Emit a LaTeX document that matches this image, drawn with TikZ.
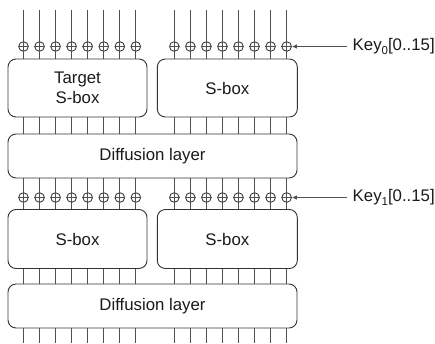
\documentclass[tikz,border=0pt]{standalone}
\usepackage{fontspec}
\setmainfont{Liberation Sans}
\usetikzlibrary{arrows.meta}
\definecolor{wirecol}{HTML}{505050}
\definecolor{edgecol}{HTML}{333333}
\definecolor{textcol}{HTML}{1A1A1A}
\tikzstyle{sbox} = [rectangle, rounded corners=8pt, minimum width=139pt, minimum height=58pt, text centered, draw=edgecol, line width=0.9pt, align=center, inner sep=0pt, text=textcol]
\tikzstyle{diffusion} = [rectangle, rounded corners=8pt, minimum width=289pt, minimum height=44pt, text centered, draw=edgecol, line width=0.9pt, inner sep=0pt, text=textcol]
\tikzstyle{xorgate} = [circle, minimum size=9.6pt, inner sep=0pt, draw=edgecol, line width=0.85pt]
\tikzstyle{wire} = [draw=wirecol, line width=0.85pt]
\tikzstyle{arrow} = [draw=wirecol, line width=0.85pt, -{Latex[length=5pt,width=4.5pt]}]

\begin{document}
\begin{tikzpicture}[x=1pt, y=-1pt, font=\fontsize{16.8}{19.5}\selectfont]
    \useasboundingbox (0,0) rectangle (435,343);

    % Boxes
    \node (sboxA) [sbox] at (77.5,88) {Target\\S-box};
    \node (sboxB) [sbox, minimum width=140pt] at (227.3,88) {S-box};
    \node (diffA) [diffusion] at (152.5,156) {Diffusion layer};
    \node (sboxC) [sbox, minimum height=59pt] at (77.5,239) {S-box};
    \node (sboxD) [sbox, minimum width=140pt, minimum height=59pt] at (227.3,239) {S-box};
    \node (diffB) [diffusion] at (152.5,306) {Diffusion layer};

    % XOR gates and wires
    \foreach \i in {1,...,8} {
        \pgfmathsetmacro{\xl}{23.5+16.05*(\i-1)}
        \pgfmathsetmacro{\xr}{174.3+16.05*(\i-1)}
        \node (xa\i) [xorgate] at (\xl,46.5) {};
        \node (xb\i) [xorgate] at (\xr,46.5) {};
        \node (xc\i) [xorgate] at (\xl,197.5) {};
        \node (xd\i) [xorgate] at (\xr,197.5) {};
        \coordinate (ina\i) at (\xl,10);
        \coordinate (inb\i) at (\xr,10);
        \coordinate (outa\i) at (\xl,343);
        \coordinate (outb\i) at (\xr,343);
        \foreach \g in {xa,xb,xc,xd}
            \draw [wire] (\g\i.west) -- (\g\i.east);
        \draw [wire] (ina\i) -- (xa\i.center) -- (xa\i.center |- sboxA.north);
        \draw [wire] (inb\i) -- (xb\i.center) -- (xb\i.center |- sboxB.north);
        \draw [wire] (xa\i.center |- sboxA.south) -- (xa\i.center |- diffA.north);
        \draw [wire] (xb\i.center |- sboxB.south) -- (xb\i.center |- diffA.north);
        \draw [wire] (xc\i.center |- diffA.south) -- (xc\i.center) -- (xc\i.center |- sboxC.north);
        \draw [wire] (xd\i.center |- diffA.south) -- (xd\i.center) -- (xd\i.center |- sboxD.north);
        \draw [wire] (xc\i.center |- sboxC.south) -- (xc\i.center |- diffB.north);
        \draw [wire] (xd\i.center |- sboxD.south) -- (xd\i.center |- diffB.north);
        \draw [wire] (xc\i.center |- diffB.south) -- (outa\i);
        \draw [wire] (xd\i.center |- diffB.south) -- (outb\i);
    }

    % Keys
    \node (keyA) [anchor=west, inner sep=0pt, text=textcol] at (352.5,46.5) {Key\raisebox{-0.45ex}{\fontsize{11.5}{12}\selectfont 0}[0..15]};
    \node (keyB) [anchor=west, inner sep=0pt, text=textcol] at (352.5,197.5) {Key\raisebox{-0.45ex}{\fontsize{11.5}{12}\selectfont 1}[0..15]};
    \draw [arrow, shorten <=6pt] (keyA.west) -- (xb8.east);
    \draw [arrow, shorten <=6pt] (keyB.west) -- (xd8.east);

\end{tikzpicture}
\end{document}
